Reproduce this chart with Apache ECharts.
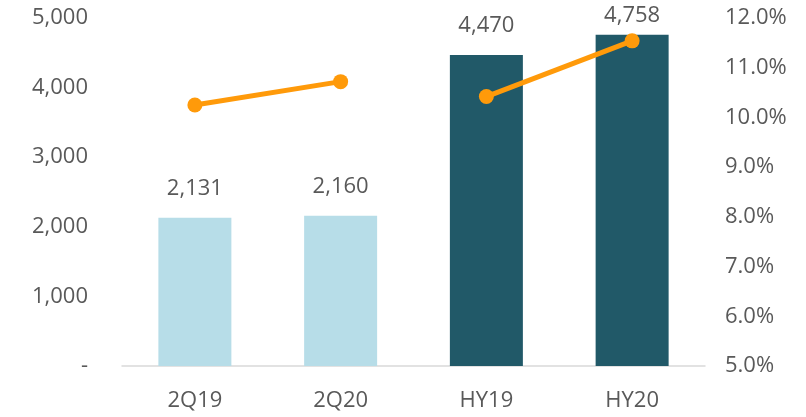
<!DOCTYPE html>
<html>
<head>
<meta charset="utf-8">
<script src="https://cdn.jsdelivr.net/npm/echarts@6/dist/echarts.min.js"></script>
<style>html,body{margin:0;padding:0;background:#fff;}#c{width:806px;height:417px;}</style>
</head>
<body>
<div id="c"></div>
<script>
var categories = ['2Q19', '2Q20', 'HY19', 'HY20'];
var barValues = [2131, 2160, 4470, 4758];
var barColors = ['#B7DDE8', '#B7DDE8', '#215968', '#215968'];
var ratioQuarter = [10.25, 10.72, null, null];
var ratioHalf = [null, null, 10.42, 11.54];
var labelDistances = [18, 18, 18, 8];

var font = '"Open Sans", "Noto Sans", sans-serif';
var txt = '#595959';
var orange = '#FF9A0A';

var chart = echarts.init(document.getElementById('c'));
var lineStyleSeries = function (data) {
  return {
    type: 'line', yAxisIndex: 1, data: data,
    symbol: 'circle', symbolSize: 15, connectNulls: false,
    lineStyle: { color: orange, width: 5 },
    itemStyle: { color: orange },
    z: 5, animation: false
  };
};
chart.setOption({
  animation: false,
  grid: { left: 122, right: 101, top: 18, bottom: 51 },
  xAxis: {
    type: 'category', data: categories,
    axisLine: { lineStyle: { color: '#D9D9D9', width: 1.5 } },
    axisTick: { show: false },
    axisLabel: { color: txt, fontSize: 22, fontFamily: font, margin: 24 }
  },
  yAxis: [{
    type: 'value', min: 0, max: 5000, interval: 1000,
    splitLine: { show: false }, axisLine: { show: false }, axisTick: { show: false },
    axisLabel: { color: txt, fontSize: 22, fontFamily: font, margin: 34,
      formatter: function (v) { return v === 0 ? '-' : v.toLocaleString('en-US'); } }
  }, {
    type: 'value', min: 5, max: 12, interval: 1,
    splitLine: { show: false }, axisLine: { show: false }, axisTick: { show: false },
    axisLabel: { color: txt, fontSize: 22, fontFamily: font, margin: 20,
      formatter: function (v) { return v.toFixed(1) + '%'; } }
  }],
  series: [{
    type: 'bar', barWidth: 73,
    data: barValues.map(function (v, i) {
      return { value: v, itemStyle: { color: barColors[i] },
        label: { distance: labelDistances[i] } };
    }),
    label: { show: true, position: 'top', color: txt, fontSize: 22, fontFamily: font,
      formatter: function (p) { return p.value.toLocaleString('en-US'); } },
    z: 2
  }, lineStyleSeries(ratioQuarter), lineStyleSeries(ratioHalf)]
});
</script>
</body>
</html>
